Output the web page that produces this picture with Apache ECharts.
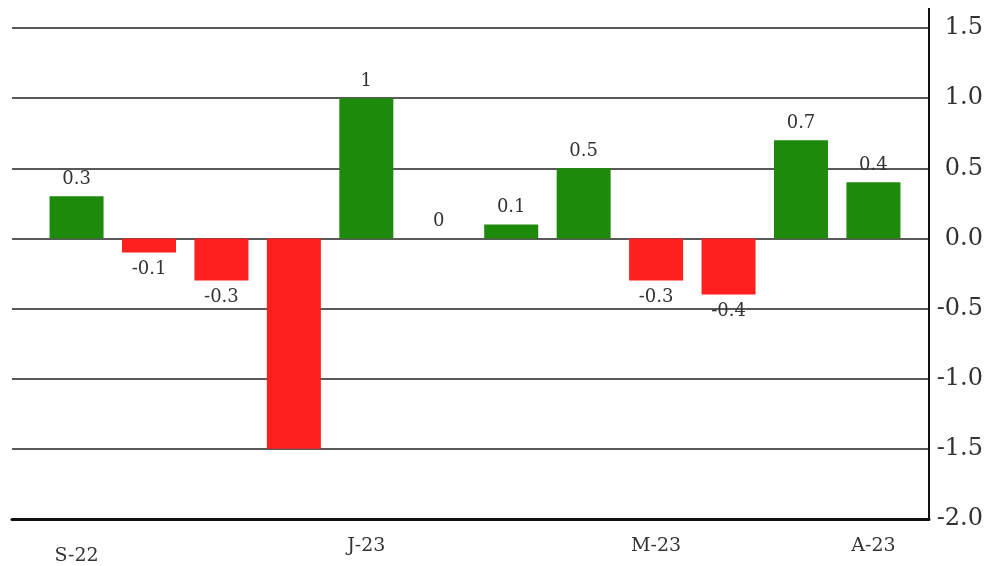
<!DOCTYPE html>
<html>
<head>
<meta charset="utf-8">
<script src="https://cdn.jsdelivr.net/npm/echarts@6/dist/echarts.min.js"></script>
<style>
  html, body { margin: 0; padding: 0; background: #ffffff; }
  #chart { width: 996px; height: 566px; }
</style>
</head>
<body>
<div id="chart"></div>
<script>
var categories = ['S-22', 'O-22', 'N-22', 'D-22', 'J-23', 'F-23', 'M-23', 'A-23', 'M-23', 'J-23', 'J-23', 'A-23'];
var values = [0.3, -0.1, -0.3, -1.5, 1, 0, 0.1, 0.5, -0.3, -0.4, 0.7, 0.4];
var labelShown = [true, true, true, false, true, true, true, true, true, true, true, true];
var shownCategoryIndex = [0, 4, 8, 11];
var yTicks = [-2.0, -1.5, -1.0, -0.5, 0.0, 0.5, 1.0, 1.5];

var GREEN = '#1d8a0c';
var RED = '#fe1f1f';
var SERIF = '"DejaVu Serif", "Liberation Serif", serif';

var chart = echarts.init(document.getElementById('chart'), null, { renderer: 'canvas' });

var barData = values.map(function (v, i) {
  return {
    value: [i, v],
    itemStyle: { color: v < 0 ? RED : GREEN },
    label: {
      show: labelShown[i],
      position: v < 0 ? 'bottom' : 'top'
    }
  };
});

var option = {
  backgroundColor: '#ffffff',
  animation: false,
  grid: { left: 12, right: 67, top: 28, bottom: 45, containLabel: false },
  xAxis: {
    type: 'value',
    min: -0.891,
    max: 11.767,
    axisLine: { show: true, onZero: false, lineStyle: { color: '#111', width: 3 } },
    axisTick: { show: false },
    splitLine: { show: false },
    axisLabel: {
      customValues: shownCategoryIndex,
      margin: 18,
      color: '#333',
      fontFamily: SERIF,
      fontSize: 19,
      formatter: function (v) {
        var i = Math.round(v);
        if (i === 0) return '{low|' + categories[i] + '}';
        return categories[i];
      },
      rich: {
        low: { color: '#333', fontFamily: SERIF, fontSize: 19, padding: [10, 0, 0, 0] }
      }
    }
  },
  yAxis: {
    type: 'value',
    position: 'right',
    min: yTicks[0],
    max: yTicks[yTicks.length - 1],
    interval: 0.5,
    axisLine: { show: true, onZero: false, lineStyle: { color: '#111', width: 2 } },
    axisTick: { show: false },
    splitLine: { show: true, lineStyle: { color: '#222', width: 1.5 } },
    axisLabel: {
      margin: 54,
      align: 'right',
      color: '#333',
      fontFamily: SERIF,
      fontSize: 24,
      formatter: function (v) { return v.toFixed(1); }
    }
  },
  series: [{
    type: 'bar',
    barWidth: 54,
    data: barData,
    label: {
      distance: 8,
      color: '#333',
      fontFamily: SERIF,
      fontSize: 18,
      formatter: function (p) { return String(p.value[1]); }
    }
  }],
  graphic: [{
    type: 'line',
    shape: { x1: 929, y1: 8, x2: 929, y2: 28 },
    style: { stroke: '#111', lineWidth: 2 },
    silent: true
  }]
};

chart.setOption(option);
</script>
</body>
</html>
